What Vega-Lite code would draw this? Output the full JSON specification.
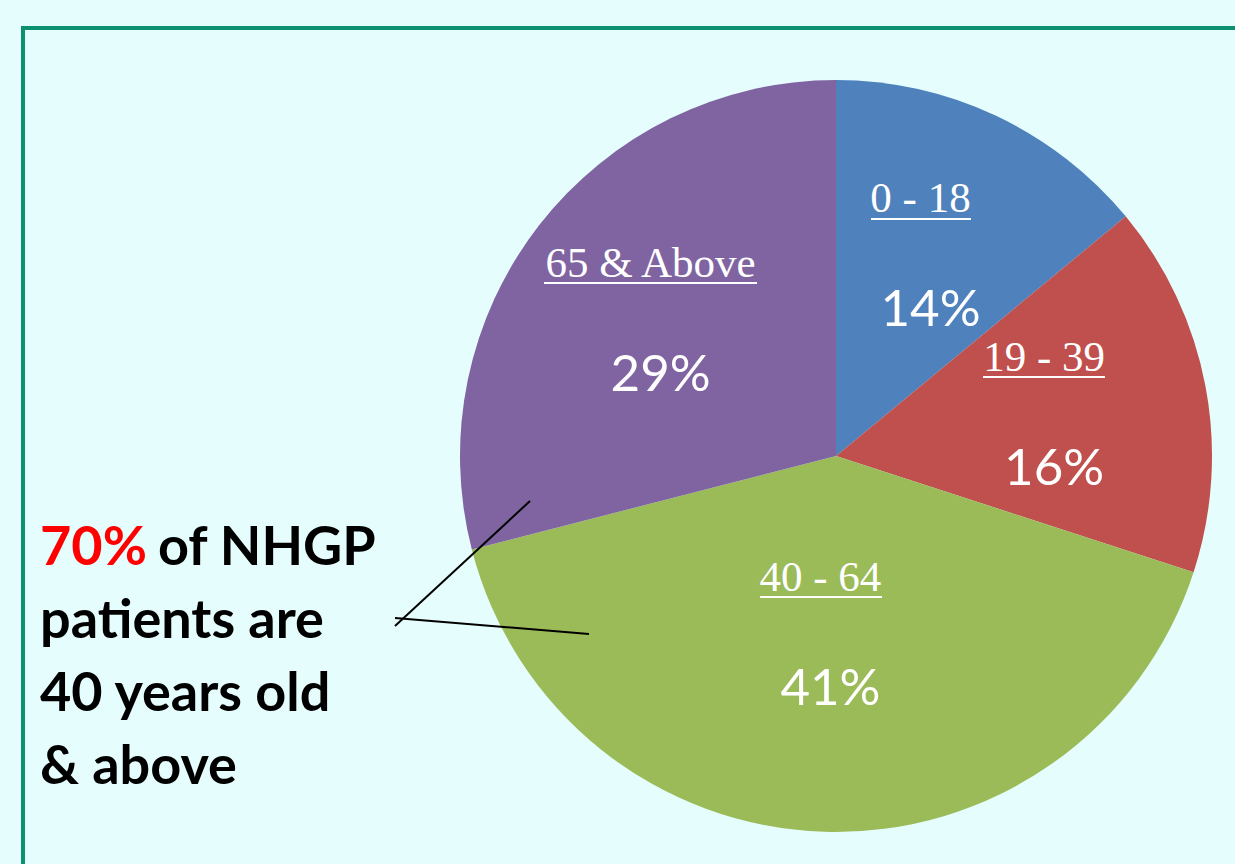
{
  "$schema": "https://vega.github.io/schema/vega-lite/v6.json",
  "width": 1235,
  "height": 864,
  "autosize": {"type": "fit", "contains": "padding"},
  "padding": 0,
  "background": "#e5fdfd",
  "config": {"view": {"stroke": null}},
  "datasets": {
    "ages": [
      {"age": "0 - 18", "pct": 14},
      {"age": "19 - 39", "pct": 16},
      {"age": "40 - 64", "pct": 41},
      {"age": "65 & Above", "pct": 29}
    ],
    "note": [
      {"line": "patients are\n40 years old\n& above"}
    ]
  },
  "data": {"name": "ages"},
  "layer": [
    {
      "data": {"values": [{}]},
      "mark": {"type": "rect", "fill": null, "stroke": "#0b9170", "strokeWidth": 4, "clip": true},
      "encoding": {
        "x": {"datum": 23, "type": "quantitative", "scale": {"domain": [0, 1235], "nice": false, "zero": false}, "axis": null},
        "x2": {"datum": 1300},
        "y": {"datum": 28, "type": "quantitative", "scale": {"domain": [0, 864], "nice": false, "zero": false, "reverse": true}, "axis": null},
        "y2": {"datum": 950}
      }
    },
    {
      "mark": {"type": "arc", "outerRadius": 376},
      "encoding": {
        "x": {"datum": 836, "type": "quantitative"},
        "y": {"datum": 456, "type": "quantitative"},
        "theta": {"field": "pct", "type": "quantitative", "stack": true},
        "order": {"field": "age", "sort": "ascending"},
        "color": {
          "field": "age", "type": "nominal", "legend": null,
          "scale": {"domain": ["0 - 18", "19 - 39", "40 - 64", "65 & Above"], "range": ["#4f81bd", "#c0504d", "#9bbb59", "#8064a2"]}
        }
      }
    },
    {
      "mark": {"type": "text", "font": "Liberation Serif", "fontSize": 43, "fill": "white", "baseline": "middle", "align": "center", "dy": -56, "dx": -10,
               "radius": {"expr": "datum.age == '40 - 64' ? 178 : 222"}},
      "encoding": {
        "x": {"datum": 836, "type": "quantitative"},
        "y": {"datum": 456, "type": "quantitative"},
        "theta": {"field": "pct", "type": "quantitative", "stack": true},
        "order": {"field": "age", "sort": "ascending"},
        "detail": {"field": "age", "type": "nominal"},
        "text": {"field": "age"}
      }
    },
    {
      "transform": [{"calculate": "datum.pct + '%'", "as": "plabel"}],
      "mark": {"type": "text", "font": "Lato", "fontSize": 51, "fill": "white", "baseline": "middle", "align": "center", "dy": 56,
               "radius": {"expr": "datum.age == '40 - 64' ? 178 : 222"}},
      "encoding": {
        "x": {"datum": 836, "type": "quantitative"},
        "y": {"datum": 456, "type": "quantitative"},
        "theta": {"field": "pct", "type": "quantitative", "stack": true},
        "order": {"field": "age", "sort": "ascending"},
        "detail": {"field": "age", "type": "nominal"},
        "text": {"field": "plabel"}
      }
    },
    {
      "data": {"values": [{}]},
      "mark": {"type": "rule", "stroke": "white", "strokeWidth": 2},
      "encoding": {"x": {"datum": 871, "type": "quantitative"}, "x2": {"datum": 971}, "y": {"datum": 219, "type": "quantitative"}}
    },
    {
      "data": {"values": [{}]},
      "mark": {"type": "rule", "stroke": "white", "strokeWidth": 2},
      "encoding": {"x": {"datum": 983, "type": "quantitative"}, "x2": {"datum": 1105}, "y": {"datum": 377, "type": "quantitative"}}
    },
    {
      "data": {"values": [{}]},
      "mark": {"type": "rule", "stroke": "white", "strokeWidth": 2},
      "encoding": {"x": {"datum": 760, "type": "quantitative"}, "x2": {"datum": 882}, "y": {"datum": 597, "type": "quantitative"}}
    },
    {
      "data": {"values": [{}]},
      "mark": {"type": "rule", "stroke": "white", "strokeWidth": 2},
      "encoding": {"x": {"datum": 544, "type": "quantitative"}, "x2": {"datum": 757}, "y": {"datum": 283, "type": "quantitative"}}
    },
    {
      "data": {"values": [{}]},
      "mark": {"type": "rule", "stroke": "black", "strokeWidth": 2},
      "encoding": {
        "x": {"datum": 395, "type": "quantitative"},
        "y": {"datum": 626, "type": "quantitative"},
        "x2": {"datum": 530},
        "y2": {"datum": 501}
      }
    },
    {
      "data": {"values": [{}]},
      "mark": {"type": "rule", "stroke": "black", "strokeWidth": 2},
      "encoding": {
        "x": {"datum": 395, "type": "quantitative"},
        "y": {"datum": 618, "type": "quantitative"},
        "x2": {"datum": 589},
        "y2": {"datum": 634}
      }
    },
    {
      "data": {"values": [{"t": "70%"}]},
      "mark": {"type": "text", "font": "Lato", "fontWeight": "bold", "fontSize": 54, "fill": "#ff0000", "align": "left", "baseline": "alphabetic"},
      "encoding": {
        "x": {"datum": 40, "type": "quantitative"},
        "y": {"datum": 565, "type": "quantitative"},
        "text": {"field": "t"}
      }
    },
    {
      "data": {"values": [{"t": "of NHGP"}]},
      "mark": {"type": "text", "font": "Lato", "fontWeight": "bold", "fontSize": 54, "fill": "black", "align": "left", "baseline": "alphabetic"},
      "encoding": {
        "x": {"datum": 158, "type": "quantitative"},
        "y": {"datum": 565, "type": "quantitative"},
        "text": {"field": "t"}
      }
    },
    {
      "data": {"name": "note"},
      "mark": {"type": "text", "font": "Lato", "fontWeight": "bold", "fontSize": 54, "fill": "black", "align": "left", "baseline": "alphabetic", "lineBreak": "\n", "lineHeight": 73},
      "encoding": {
        "x": {"datum": 40, "type": "quantitative"},
        "y": {"datum": 638, "type": "quantitative"},
        "text": {"field": "line"}
      }
    }
  ]
}
